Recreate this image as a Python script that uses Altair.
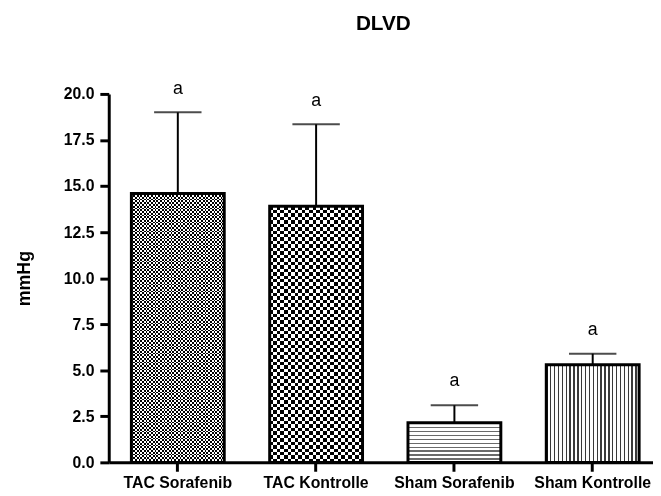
import altair as alt
import pandas as pd

# ---- data ----
groups = ["TAC Sorafenib", "TAC Kontrolle", "Sham Sorafenib", "Sham Kontrolle"]
means = [14.6, 13.9, 2.15, 5.3]
errors = [4.4, 4.45, 0.95, 0.6]
letters = ["a", "a", "a", "a"]
y_ticks = [0, 2.5, 5, 7.5, 10, 12.5, 15, 17.5, 20]
title_text = "DLVD"

W, H = 551, 373
PX_PER_UNIT = H / 20.0
FONT = "Liberation Sans, Arial, sans-serif"

df = pd.DataFrame({
    "group": groups,
    "mean": means,
    "upper": [m + e for m, e in zip(means, errors)],
    "label": letters,
})


def stripes(n, frac, color_a, color_b, along_x):
    stops = []
    for k in range(n):
        s, m, e = k / n, (k + frac) / n, (k + 1) / n
        stops += [
            alt.GradientStop(offset=round(s, 6), color=color_a),
            alt.GradientStop(offset=round(m, 6), color=color_a),
            alt.GradientStop(offset=round(m, 6), color=color_b),
            alt.GradientStop(offset=round(min(e, 1.0), 6), color=color_b),
        ]
    if along_x:
        return alt.Gradient(gradient="linear", x1=0, y1=0, x2=1, y2=0, stops=stops)
    return alt.Gradient(gradient="linear", x1=0, y1=0, x2=0, y2=1, stops=stops)


x_enc = alt.X(
    "group:N",
    sort=groups,
    scale=alt.Scale(domain=groups, paddingInner=0.3286, paddingOuter=0.132, align=0.62),
    axis=alt.Axis(
        title="", labelAngle=0, labelFont=FONT, labelFontSize=16, labelFontWeight="bold",
        labelColor="black", labelPadding=3, tickSize=9, tickWidth=3, tickColor="black",
        domainColor="black", domainWidth=3,
    ),
)
y_enc = alt.Y(
    "mean:Q",
    scale=alt.Scale(domain=[0, 20], nice=False),
    axis=alt.Axis(
        values=y_ticks, format=".1f", title="mmHg", titleFont=FONT, titleFontSize=18,
        titleFontWeight="bold", titleColor="black", titlePadding=30,
        labelFont=FONT, labelFontSize=16, labelFontWeight="bold", labelColor="black",
        labelPadding=6, tickSize=9, tickWidth=3, tickColor="black",
        domainColor="black", domainWidth=3, grid=False,
    ),
)

base = alt.Chart(df)


def bar_layer(group, fill, blend=None):
    kw = dict(fill=fill, strokeWidth=0)
    if blend:
        kw["blend"] = blend
    return base.transform_filter(alt.datum.group == group).mark_bar(**kw).encode(x=x_enc, y=y_enc)


h = [m * PX_PER_UNIT for m in means]
layers = [
    # TAC Sorafenib: fine checker
    bar_layer(groups[0], stripes(26, 0.5, "black", "white", True)),
    bar_layer(groups[0], stripes(round(h[0] / 3.6), 0.5, "black", "white", False), "difference"),
    # TAC Kontrolle: coarse checker
    bar_layer(groups[1], stripes(13, 0.5, "black", "white", True)),
    bar_layer(groups[1], stripes(round(h[1] / 7.0), 0.5, "black", "white", False), "difference"),
    # Sham Sorafenib: horizontal lines
    bar_layer(groups[2], stripes(round(h[2] / 4.0), 0.3, "#6a6a6a", "white", False)),
    # Sham Kontrolle: vertical lines
    bar_layer(groups[3], stripes(24, 0.35, "#3a3a3a", "white", True)),
]

outline = base.mark_bar(fillOpacity=0, stroke="black", strokeWidth=3).encode(x=x_enc, y=y_enc)
err_rule = base.mark_rule(color="black", strokeWidth=2).encode(x=x_enc, y=y_enc, y2="upper:Q")
err_cap = base.mark_tick(color="black", size=48, thickness=2).encode(x=x_enc, y=alt.Y("upper:Q"))
letter_text = base.mark_text(font=FONT, fontSize=18, color="black", baseline="alphabetic", dy=-19).encode(
    x=x_enc, y=alt.Y("upper:Q"), text="label:N"
)
title_mark = alt.Chart(pd.DataFrame({"t": [title_text]})).mark_text(
    font=FONT, fontSize=21, fontWeight="bold", color="black", baseline="alphabetic", align="center"
).encode(x=alt.value(278), y=alt.value(-65), text="t:N")

chart = alt.layer(*layers, err_rule, outline, err_cap, letter_text, title_mark).properties(
    width=W,
    height=H,
    autosize=alt.AutoSizeParams(type="none"),
    padding={"left": 102, "top": 84, "right": 0, "bottom": 26},
).configure(
    background="white",
    view=alt.ViewConfig(stroke="transparent"),
)

chart.save("out.html", embed_options={"renderer": "svg", "actions": False})
